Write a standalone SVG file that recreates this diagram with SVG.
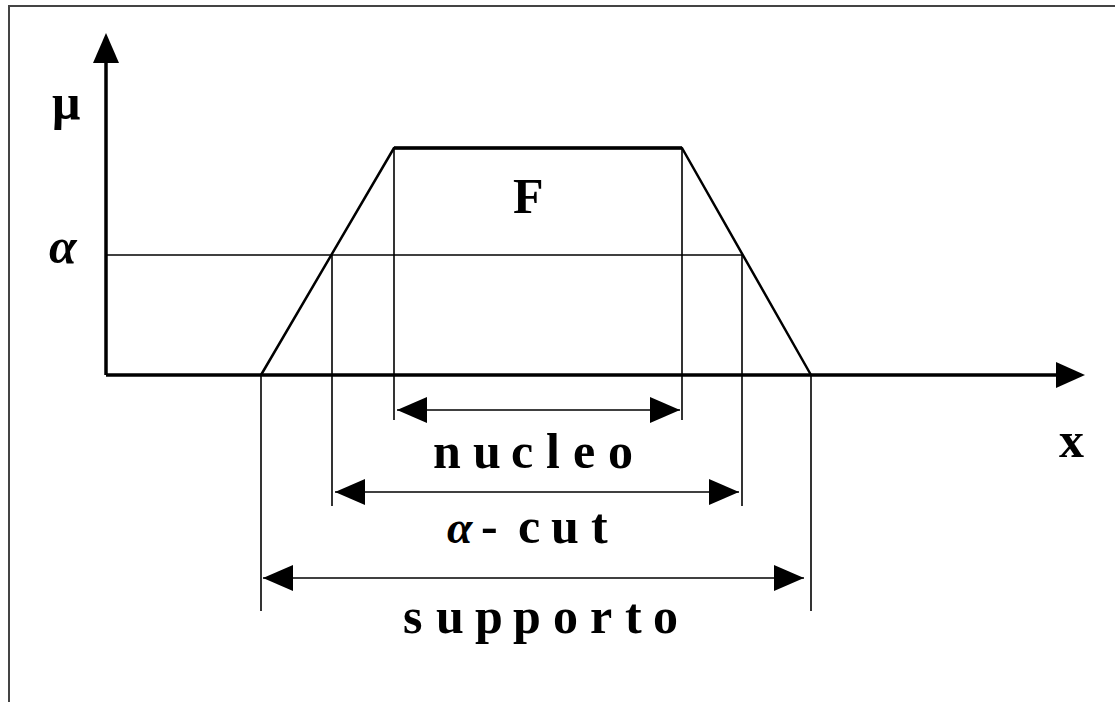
<svg xmlns="http://www.w3.org/2000/svg" width="1115" height="702" viewBox="0 0 1115 702">
  <style>
    .lbl { font-family: "Liberation Serif", "Times New Roman", serif; font-weight: bold; font-size: 50px; fill: #000; }
    .it { font-style: italic; }
    .axis { stroke: #000; stroke-width: 3.5; fill: none; }
    .thin { stroke: #000; stroke-width: 1.6; fill: none; }
    .dim { stroke: #000; stroke-width: 1.6; fill: none; marker-start: url(#ah); marker-end: url(#ah); }
  </style>
  <defs>
    <marker id="ah" markerUnits="userSpaceOnUse" markerWidth="30" markerHeight="26" viewBox="0 0 30 26" refX="30" refY="13" orient="auto-start-reverse">
      <path d="M0,0 L30,13 L0,26 z" fill="#000"/>
    </marker>
  </defs>
  <rect width="1115" height="702" fill="#fff"/>
  <g id="frame">
    <line x1="8" y1="6" x2="1115" y2="6" stroke="#444" stroke-width="2.2"/>
    <line x1="9" y1="5" x2="9" y2="702" stroke="#444" stroke-width="2"/>
  </g>
  <g id="connectors">
    <path class="axis" d="M106,375 L106,50" />
    <path d="M93,63 L106,33 L119,63 z" fill="#000"/>
    <path class="axis" d="M106,375 L1070,375" />
    <path d="M1056,362 L1085,375 L1056,388 z" fill="#000"/>
    <line class="thin" x1="106" y1="255" x2="742" y2="255"/>
    <polyline id="trap" points="261,375 394,148 682,148 811,375" stroke="#000" stroke-width="2.5" fill="none" stroke-linejoin="round"/>
    <line x1="394" y1="148" x2="682" y2="148" stroke="#000" stroke-width="3.5"/>
    <line class="thin" x1="394" y1="148" x2="394" y2="420"/>
    <line class="thin" x1="682" y1="148" x2="682" y2="420"/>
    <line class="thin" x1="332" y1="255" x2="332" y2="506"/>
    <line class="thin" x1="742" y1="255" x2="742" y2="506"/>
    <line class="thin" x1="261" y1="375" x2="261" y2="611"/>
    <line class="thin" x1="811" y1="375" x2="811" y2="611"/>
    <line class="dim" x1="397" y1="410" x2="680" y2="410"/>
    <line class="dim" x1="335" y1="492" x2="739" y2="492"/>
    <line class="dim" x1="263" y1="578" x2="804" y2="578"/>
  </g>
  <g id="labels">
    <text class="lbl" x="52" y="119" font-size="52">μ</text>
    <text class="lbl it" x="49" y="263">α</text>
    <text class="lbl" x="1059" y="457">x</text>
    <text class="lbl" x="513" y="213" font-size="58">F</text>
    <text class="lbl" x="433 473 511 546 573 608" y="468">nucleo</text>
    <text class="lbl" y="543"><tspan class="it" x="447" font-size="46">α</tspan><tspan x="481">-</tspan><tspan x="518 551 591">cut</tspan></text>
    <text class="lbl" x="403 436 475 513 553 590 625 653" y="633">supporto</text>
  </g>
</svg>
